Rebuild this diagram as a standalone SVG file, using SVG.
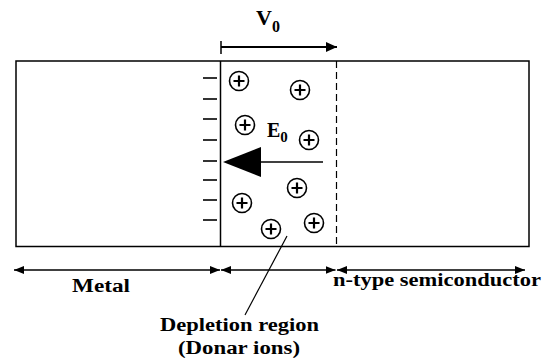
<svg xmlns="http://www.w3.org/2000/svg" width="544" height="364" viewBox="0 0 544 364">
<style>
.t{font-family:"Liberation Serif","DejaVu Serif",serif;font-weight:bold;fill:#000}
.ln{stroke:#000;stroke-width:1.5;fill:none}
.neg{stroke:#000;stroke-width:1.6}
</style>
<defs>
<marker id="ah" markerUnits="userSpaceOnUse" markerWidth="10" markerHeight="10" viewBox="0 0 10 10" refX="10" refY="5" orient="auto-start-reverse">
<path d="M0,1 L10,5 L0,9 Z" fill="#000"/>
</marker>
<marker id="ahv" markerUnits="userSpaceOnUse" markerWidth="11" markerHeight="11" viewBox="0 0 11 11" refX="11" refY="5.5" orient="auto">
<path d="M0,0.5 L11,5.5 L0,10.5 Z" fill="#000"/>
</marker>
<g id="ionsym"><circle r="9.5" fill="#fff" stroke="#000" stroke-width="1.6"/><path d="M-5.5,0 H5.5 M0,-5.5 V5.5" stroke="#000" stroke-width="2.2" fill="none"/></g>
</defs>

<g id="box">
<rect x="16" y="61" width="513" height="185.5" class="ln"/>
</g>
<g id="junction">
<line x1="220.5" y1="61" x2="220.5" y2="246.5" class="ln"/>
<line x1="336.5" y1="61" x2="336.5" y2="246.5" stroke="#000" stroke-width="1.2" stroke-dasharray="7,4"/>
</g>

<g id="negative-charges" class="neg">
<line x1="203" y1="78" x2="217" y2="78"/>
<line x1="203" y1="99" x2="217" y2="99"/>
<line x1="203" y1="119" x2="217" y2="119"/>
<line x1="203" y1="140" x2="217" y2="140"/>
<line x1="203" y1="161" x2="217" y2="161"/>
<line x1="203" y1="180" x2="217" y2="180"/>
<line x1="203" y1="200" x2="217" y2="200"/>
<line x1="203" y1="220" x2="217" y2="220"/>
</g>

<g id="donor-ions">
<use href="#ionsym" x="239" y="81"/>
<use href="#ionsym" x="300" y="90"/>
<use href="#ionsym" x="245" y="125"/>
<use href="#ionsym" x="309" y="140"/>
<use href="#ionsym" x="297" y="188"/>
<use href="#ionsym" x="242" y="203"/>
<use href="#ionsym" x="314" y="223"/>
<use href="#ionsym" x="271" y="229"/>
</g>

<g id="field-E0">
<line x1="259" y1="162" x2="323" y2="162" class="ln"/>
<polygon points="223,162 261,147 261,177" fill="#000"/>
<text class="t" x="267" y="137" font-size="20">E<tspan font-size="15" dy="5">0</tspan></text>
</g>

<g id="potential-V0">
<line x1="221" y1="41" x2="221" y2="54" class="ln"/>
<line x1="221" y1="47" x2="337" y2="47" stroke="#000" stroke-width="2" marker-end="url(#ahv)"/>
<text class="t" x="256" y="25" font-size="22">V<tspan font-size="16" dy="7">0</tspan></text>
</g>

<g id="connectors">
<line x1="14" y1="270" x2="220" y2="270" class="ln" marker-start="url(#ah)" marker-end="url(#ah)"/>
<line x1="221" y1="270" x2="335.5" y2="270" class="ln" marker-start="url(#ah)" marker-end="url(#ah)"/>
<line x1="337" y1="270" x2="525" y2="270" class="ln" marker-start="url(#ah)" marker-end="url(#ah)"/>
<line x1="287" y1="236" x2="245" y2="315" stroke="#000" stroke-width="1.2"/>
</g>

<g id="label-metal">
<text class="t" x="72" y="292" font-size="18" textLength="58" lengthAdjust="spacingAndGlyphs">Metal</text>
</g>
<g id="label-ntype">
<text class="t" x="333" y="286" font-size="18" textLength="208" lengthAdjust="spacingAndGlyphs">n-type semiconductor</text>
</g>
<g id="label-depletion">
<text class="t" x="160" y="331" font-size="18" textLength="159" lengthAdjust="spacingAndGlyphs">Depletion region</text>
<text class="t" x="178" y="354" font-size="18" textLength="122" lengthAdjust="spacingAndGlyphs">(Donar ions)</text>
</g>
</svg>
